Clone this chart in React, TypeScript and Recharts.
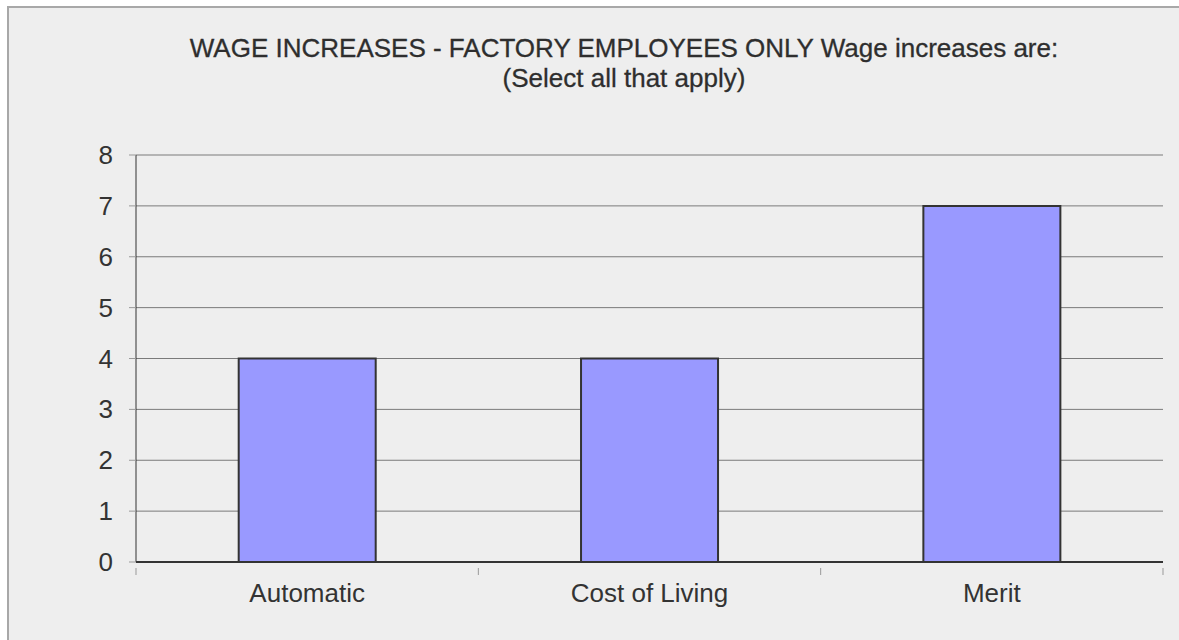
import { BarChart, Bar, XAxis, YAxis, CartesianGrid } from 'recharts';

const categories = ['Automatic', 'Cost of Living', 'Merit'];
const counts = [4, 4, 7];
const yTicks = [0, 1, 2, 3, 4, 5, 6, 7, 8];

const data = categories.map((name, i) => ({ name, value: counts[i] }));

const font = '"Liberation Sans", Arial, sans-serif';

const CategoryTick = (props: any) => {
  const { x, y, payload, index } = props;
  const half = payload && payload.offset ? payload.offset : 171;
  return (
    <g>
      <line x1={x - half} x2={x - half} y1={y - 2} y2={y + 5} stroke="#999" strokeWidth={1} />
      {index === categories.length - 1 && (
        <line x1={x + half} x2={x + half} y1={y - 2} y2={y + 5} stroke="#999" strokeWidth={1} />
      )}
      <text x={x} y={y + 32} textAnchor="middle" fill="#333" fontSize={26} fontFamily={font}>
        {payload.value}
      </text>
    </g>
  );
};

const ValueTick = (props: any) => {
  const { x, y, payload } = props;
  return (
    <text x={x} y={y + 9} textAnchor="end" fill="#333" fontSize={26} fontFamily={font}>
      {payload.value}
    </text>
  );
};

export default function App() {
  return (
    <div style={{ position: 'absolute', left: 0, top: 0, width: 1179, height: 640, background: '#fff', overflow: 'hidden' }}>
      <div
        style={{
          position: 'absolute',
          left: 7,
          top: 6,
          width: 1200,
          height: 660,
          background: '#eeeeee',
          borderLeft: '2px solid #a8a8a8',
          borderTop: '2px solid #a8a8a8',
        }}
      />
      <div
        style={{
          position: 'absolute',
          left: 124,
          width: 1000,
          top: 33,
          textAlign: 'center',
          fontFamily: font,
          fontSize: 26,
          lineHeight: '30px',
          color: '#2e2e2e',
          WebkitTextStroke: '0.3px #2e2e2e',
        }}
      >
        WAGE INCREASES - FACTORY EMPLOYEES ONLY Wage increases are:
        <br />
        (Select all that apply)
      </div>
      <div style={{ position: 'absolute', left: 0, top: 0 }}>
        <BarChart
          width={1179}
          height={640}
          data={data}
          margin={{ top: 155, right: 16, bottom: 48, left: 76 }}
          barCategoryGap="30%"
        >
          <CartesianGrid horizontal vertical={false} stroke="#7a7a7a" strokeWidth={1} />
          <XAxis
            dataKey="name"
            height={30}
            axisLine={{ stroke: '#333', strokeWidth: 2 }}
            tickLine={false}
            tick={<CategoryTick />}
            interval={0}
          />
          <YAxis
            width={60}
            domain={[0, 8]}
            ticks={yTicks}
            interval={0}
            axisLine={{ stroke: '#333', strokeWidth: 1 }}
            tickLine={{ stroke: '#999' }}
            tickSize={7}
            tickMargin={16}
            tick={<ValueTick />}
          />
          <Bar dataKey="value" fill="#9999ff" stroke="#333" strokeWidth={2} isAnimationActive={false} />
        </BarChart>
      </div>
    </div>
  );
}
